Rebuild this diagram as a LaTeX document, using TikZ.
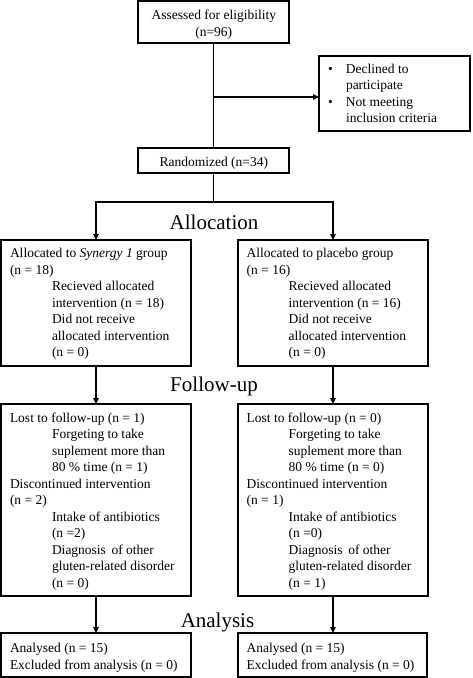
\documentclass[tikz,border=0pt]{standalone}
\usepackage{fontspec}
\setmainfont{Liberation Serif}
\usetikzlibrary{arrows.meta}
\newcommand\lineA[1]{\hbox{#1}}
\newcommand\lineB[1]{\hbox{\hspace*{42pt}#1}}
\newcommand\lineC[1]{\hbox to 0pt{\hss #1\hss}}
\newcommand\lineD[1]{\hbox{\makebox[19pt][l]{\hspace*{1pt}•}#1}}
\newcommand\lineE[1]{\hbox{\hspace*{19pt}#1}}
\begin{document}
\begin{tikzpicture}[x=1pt,y=-1pt,
  box/.style={draw, line width=1.2pt, inner sep=0pt, outer sep=0pt, anchor=north west},
  txt/.style={anchor=base west, inner sep=0pt, outer sep=0pt, font=\fontsize{13.5}{16.5}\selectfont},
  ctxt/.style={anchor=base, inner sep=0pt, outer sep=0pt, font=\fontsize{13.5}{16.5}\selectfont},
  head/.style={anchor=base, inner sep=0pt, font=\fontsize{21}{24}\selectfont},
  conn/.style={line width=1.2pt},
  arr/.style={line width=1.2pt, -{Triangle[length=6pt,width=5.5pt]}}]
\useasboundingbox (0,0) rectangle (472,678);

% boxes
\node[box, minimum width=151pt, minimum height=42pt] (assess) at (138,1) {};
\node[box, minimum width=151pt, minimum height=75pt] (excl) at (319,56) {};
\node[box, minimum width=151pt, minimum height=25pt] (rand) at (138,148) {};
\node[box, minimum width=190pt, minimum height=126pt] (a1) at (1,240) {};
\node[box, minimum width=190pt, minimum height=126pt] (a2) at (238,240) {};
\node[box, minimum width=190pt, minimum height=192pt] (f1) at (1,404) {};
\node[box, minimum width=190pt, minimum height=192pt] (f2) at (238,404) {};
\node[box, minimum width=190pt, minimum height=44pt] (n1) at (1,633) {};
\node[box, minimum width=189pt, minimum height=44pt] (n2) at (238,633) {};

% texts
\node[ctxt] (tassess) at (213.8,19) {\vtop{\baselineskip=17.5pt\lineC{Assessed for eligibility}\lineC{(n=96)}}};
\node[txt] (texcl) at (327,73.5) {\vtop{\baselineskip=16.4pt
  \lineD{Declined to}
  \lineE{participate}
  \lineD{Not meeting}
  \lineE{inclusion criteria}}};
\node[ctxt] (trand) at (213.8,166.5) {Randomized (n=34)};

\node[txt] (ta1) at (10,257.5) {\vtop{
  \lineA{Allocated to \textit{Synergy 1} group}
  \lineA{(n = 18)}
  \lineB{Recieved allocated}
  \lineB{intervention (n = 18)}
  \lineB{Did not receive}
  \lineB{allocated intervention}
  \lineB{(n = 0)}}};
\node[txt] (ta2) at (246.7,257.5) {\vtop{
  \lineA{Allocated to placebo group}
  \lineA{(n = 16)}
  \lineB{Recieved allocated}
  \lineB{intervention (n = 16)}
  \lineB{Did not receive}
  \lineB{allocated intervention}
  \lineB{(n = 0)}}};

\node[txt] (tf1) at (10,422) {\vtop{
  \lineA{Lost to follow-up (n = 1)}
  \lineB{Forgeting to take}
  \lineB{suplement more than}
  \lineB{80 \% time (n = 1)}
  \lineA{Discontinued intervention}
  \lineA{(n = 2)}
  \lineB{Intake of antibiotics}
  \lineB{(n =2)}
  \lineB{Diagnosis\, of other}
  \lineB{gluten-related disorder}
  \lineB{(n = 0)}}};
\node[txt] (tf2) at (246.7,422) {\vtop{
  \lineA{Lost to follow-up (n = 0)}
  \lineB{Forgeting to take}
  \lineB{suplement more than}
  \lineB{80 \% time (n = 0)}
  \lineA{Discontinued intervention}
  \lineA{(n = 1)}
  \lineB{Intake of antibiotics}
  \lineB{(n =0)}
  \lineB{Diagnosis\, of other}
  \lineB{gluten-related disorder}
  \lineB{(n = 1)}}};

\node[txt] (tn1) at (10,652.5) {\vtop{
  \lineA{Analysed (n = 15)}
  \lineA{Excluded from analysis (n = 0)}}};
\node[txt] (tn2) at (246.7,652.5) {\vtop{
  \lineA{Analysed (n = 15)}
  \lineA{Excluded from analysis (n = 0)}}};

% headings
\node[head] (hall) at (214,229.5) {Allocation};
\node[head] (hfol) at (214,391) {Follow-up};
\node[head] (hana) at (217.5,627) {Analysis};

% connectors
\coordinate (branch) at (213.5,97);
\coordinate (split) at (213.5,202);
\draw[conn] (assess.south) -- (rand.north);
\draw[arr] (branch) -- (branch -| excl.west);
\draw[conn] (rand.south) -- (split);
\draw[arr] (split) -| (a1.north);
\draw[arr] (split) -| (a2.north);
\draw[arr] (a1.south) -- (f1.north);
\draw[arr] (a2.south) -- (f2.north);
\draw[arr] (f1.south) -- (n1.north);
\draw[arr] (f2.south) -- (f2.south |- n2.north);
\end{tikzpicture}
\end{document}
